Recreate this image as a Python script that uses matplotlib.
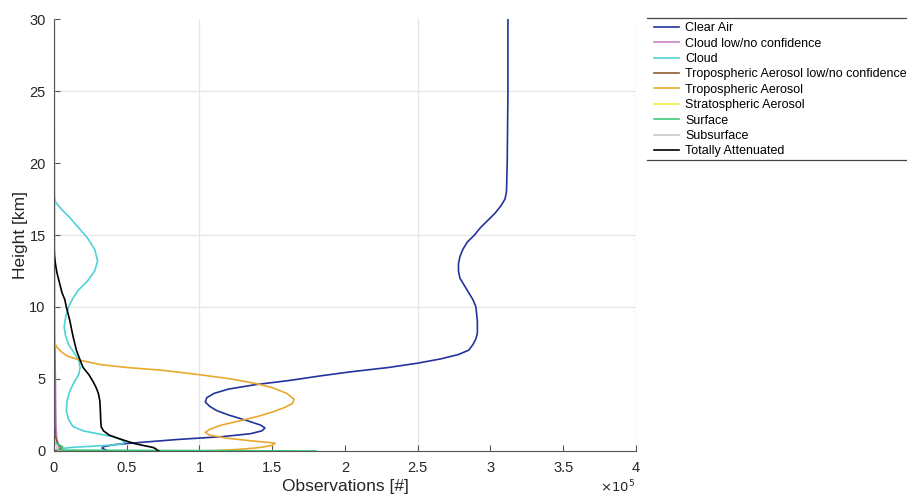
import numpy as np
import matplotlib
matplotlib.use("Agg")
import matplotlib.pyplot as plt
from matplotlib.lines import Line2D

plt.rcParams['font.family'] = ['Liberation Sans', 'DejaVu Sans']

# values (x in units of 1e5 observations, h in km)
clear_h = [30, 25, 20, 18, 17.5, 17, 16.5, 16, 15.5, 15, 14.5, 14, 13.5, 13, 12.5, 12, 11.5, 11,
           10.5, 10, 9, 8.2, 7.8, 7.4, 7, 6.7, 6.4, 6.1, 5.8, 5.5, 5.2, 4.9, 4.6, 4.3, 4.0, 3.7,
           3.4, 3.1, 2.8, 2.5, 2.1, 1.8, 1.6, 1.4, 1.2, 1.0, 0.8, 0.6, 0.45, 0.3, 0.2, 0.1, 0.05]
clear_x = [3.12, 3.12, 3.115, 3.11, 3.1, 3.07, 3.03, 2.98, 2.93, 2.89, 2.84, 2.81, 2.79, 2.78, 2.78,
           2.79, 2.82, 2.85, 2.88, 2.9, 2.91, 2.91, 2.9, 2.88, 2.85, 2.78, 2.66, 2.5, 2.3, 2.04,
           1.82, 1.62, 1.38, 1.2, 1.1, 1.05, 1.04, 1.07, 1.12, 1.2, 1.33, 1.42, 1.45, 1.43, 1.35,
           1.16, 0.85, 0.6, 0.42, 0.34, 0.33, 0.35, 0.36]

cloud_low_h = [30, 8, 7, 5, 3, 1.5, 0.8, 0.5, 0.3, 0.15, 0]
cloud_low_x = [0, 0, 0.005, 0.01, 0.012, 0.015, 0.02, 0.03, 0.035, 0.025, 0.01]

cloud_h = [30, 17.8, 17.3, 16.8, 16.2, 15.5, 14.8, 14, 13.2, 12.5, 11.8, 11.2, 10.6, 10, 9.3, 8.6,
           8, 7.4, 6.8, 6.3, 5.8, 5.3, 4.8, 4.2, 3.5, 2.8, 2.2, 1.7, 1.4, 1.2, 1.0, 0.8, 0.6,
           0.45, 0.35, 0.25, 0.15, 0.05, 0]
cloud_x = [0, 0, 0.01, 0.05, 0.11, 0.17, 0.23, 0.28, 0.3, 0.28, 0.23, 0.17, 0.13, 0.1, 0.08, 0.07,
           0.08, 0.1, 0.14, 0.17, 0.18, 0.17, 0.14, 0.11, 0.09, 0.085, 0.1, 0.13, 0.2, 0.3, 0.4,
           0.46, 0.49, 0.45, 0.3, 0.12, 0.04, 0.01, 0]

trop_low_h = [30, 15, 10, 5, 2, 1, 0.5, 0.3, 0.15, 0.05, 0]
trop_low_x = [0, 0.003, 0.004, 0.005, 0.006, 0.01, 0.025, 0.045, 0.05, 0.03, 0.01]

trop_h = [30, 8, 7.5, 7.2, 6.9, 6.6, 6.3, 6.0, 5.8, 5.6, 5.3, 5.0, 4.7, 4.4, 4.0, 3.6, 3.3, 3.0,
          2.7, 2.4, 2.1, 1.8, 1.5, 1.3, 1.1, 0.9, 0.7, 0.55, 0.4, 0.3, 0.2, 0.1, 0.03, 0]
trop_x = [0, 0, 0.005, 0.02, 0.05, 0.09, 0.18, 0.32, 0.5, 0.75, 1.0, 1.22, 1.38, 1.5, 1.6, 1.65,
          1.64, 1.58, 1.5, 1.4, 1.28, 1.15, 1.07, 1.04, 1.07, 1.18, 1.36, 1.52, 1.5, 1.45, 1.38,
          1.25, 1.1, 1.0]

strat_h = [30, 20, 10, 7.5, 7, 0]
strat_x = [0.004, 0.004, 0.004, 0.003, 0, 0]

surface_h = [30, 0.7, 0.5, 0.3, 0.06, 0]
surface_x = [0, 0, 0.02, 0.06, 0.05, 1.8]

subsurface_h = [30, 1.0, 0.6, 0.3, 0]
subsurface_x = [0, 0, 0.005, 0.02, 0.03]

atten_h = [30, 14.5, 13.6, 13, 12.4, 11.8, 11, 10.5, 10, 9.1, 8, 7, 6.3, 5.8, 5.3, 4.8, 4.4, 4.0,
           3.5, 3.0, 2.5, 2.0, 1.67, 1.4, 1.1, 0.85, 0.65, 0.5, 0.35, 0.25, 0.15, 0.05, 0]
atten_x = [0, 0, 0.003, 0.01, 0.02, 0.035, 0.055, 0.075, 0.085, 0.108, 0.13, 0.154, 0.18, 0.2,
           0.24, 0.27, 0.29, 0.305, 0.315, 0.318, 0.32, 0.322, 0.325, 0.34, 0.38, 0.45, 0.51,
           0.56, 0.63, 0.68, 0.7, 0.71, 0.72]

series = [
    ("Clear Air", clear_x, clear_h, "#24339c"),
    ("Cloud low/no confidence", cloud_low_x, cloud_low_h, "#c880cc"),
    ("Cloud", cloud_x, cloud_h, "#4fd2d6"),
    ("Tropospheric Aerosol low/no confidence", trop_low_x, trop_low_h, "#8c5a30"),
    ("Tropospheric Aerosol", trop_x, trop_h, "#e8a92e"),
    ("Stratospheric Aerosol", strat_x, strat_h, "#eeee30"),
    ("Surface", surface_x, surface_h, "#3cc87a"),
    ("Subsurface", subsurface_x, subsurface_h, "#c8c8c8"),
    ("Totally Attenuated", atten_x, atten_h, "#000000"),
]

x_ticks = [0, 0.5, 1, 1.5, 2, 2.5, 3, 3.5, 4]
y_ticks = [0, 5, 10, 15, 20, 25, 30]
grid_x = [1, 2.5, 4]
grid_y = [10, 15, 25]

fig = plt.figure(figsize=(9.07, 4.95), dpi=100)
ax = fig.add_axes([0.0595, 0.0889, 0.6417, 0.8727])

for gx in grid_x:
    ax.axvline(gx, color="#e6e6e6", lw=0.9, zorder=0)
for gy in grid_y:
    ax.axhline(gy, color="#e6e6e6", lw=0.9, zorder=0)

for name, xs, hs, col in series:
    ax.plot(xs, hs, color=col, lw=1.2, label=name)

ax.set_xlim(0, 4)
ax.set_ylim(0, 30)
ax.set_xticks(x_ticks)
ax.set_xticklabels([f"{t:g}" for t in x_ticks])
ax.set_yticks(y_ticks)
ax.tick_params(direction="in", length=4, colors="#555555", labelcolor="#262626",
               labelsize=10.5, width=0.8)
ax.tick_params(axis="x", pad=7)
ax.tick_params(axis="y", pad=6)
for side in ["top", "right"]:
    ax.spines[side].set_visible(False)
for side in ["left", "bottom"]:
    ax.spines[side].set_color("#555555")
    ax.spines[side].set_linewidth(0.8)

ax.set_xlabel("Observations [#]", fontsize=12.5, color="#262626", labelpad=3)
ax.set_ylabel("Height [km]", fontsize=12.5, color="#262626", labelpad=1)
fig.text(0.662, 0.005, r"$\times10^5$", fontsize=9.5, color="#262626")

handles, labels = ax.get_legend_handles_labels()
fig.legend(handles, labels, loc="upper left", bbox_to_anchor=(0.716, 0.965),
           frameon=False, fontsize=9, handlelength=2.0, handletextpad=0.45,
           labelspacing=0.27, borderaxespad=0)
fig.add_artist(Line2D([0.713, 1.0], [0.964, 0.964], color="#444444", lw=0.9))
fig.add_artist(Line2D([0.713, 1.0], [0.677, 0.677], color="#444444", lw=0.9))

fig.savefig("out.png", dpi=100)
